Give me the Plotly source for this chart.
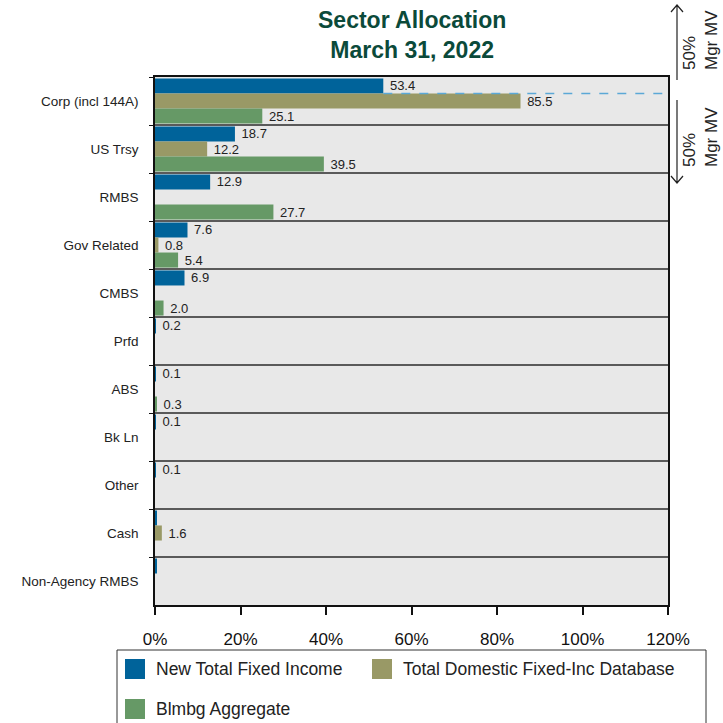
import plotly.graph_objects as go

categories = ["Corp (incl 144A)", "US Trsy", "RMBS", "Gov Related", "CMBS", "Prfd",
              "ABS", "Bk Ln", "Other", "Cash", "Non-Agency RMBS"]
series_names = ["New Total Fixed Income", "Total Domestic Fixed-Inc Database", "Blmbg Aggregate"]
new_total = [53.4, 18.7, 12.9, 7.6, 6.9, 0.2, 0.1, 0.1, 0.1, 0.3, 0.3]
new_total_lbl = ["53.4", "18.7", "12.9", "7.6", "6.9", "0.2", "0.1", "0.1", "0.1", "", ""]
domestic_db = [85.5, 12.2, None, 0.8, None, None, None, None, None, 1.6, None]
domestic_db_lbl = ["85.5", "12.2", "", "0.8", "", "", "", "", "", "1.6", ""]
blmbg_agg = [25.1, 39.5, 27.7, 5.4, 2.0, None, 0.3, None, None, None, None]
blmbg_agg_lbl = ["25.1", "39.5", "27.7", "5.4", "2.0", "", "0.3", "", "", "", ""]
x_ticks = [0, 20, 40, 60, 80, 100, 120]
x_tick_labels = ["0%", "20%", "40%", "60%", "80%", "100%", "120%"]
colors = ["#00639A", "#999966", "#669966"]

W, H = 723, 723
L, R, T, B = 155, 668, 77, 605
FONT = "Arial, Liberation Sans, sans-serif"


def px(xpix):
    return (xpix - L) / (R - L)


def py(ypix):
    return (B - ypix) / (B - T)


fig = go.Figure()
for name, vals, lbls, col in zip(series_names,
                                 [new_total, domestic_db, blmbg_agg],
                                 [new_total_lbl, domestic_db_lbl, blmbg_agg_lbl],
                                 colors):
    fig.add_trace(go.Bar(
        y=categories, x=vals, name=name, orientation="h",
        marker=dict(color=col, line=dict(width=0)),
        text=[(" " + t) if t else "" for t in lbls],
        textposition="outside", cliponaxis=False,
        textfont=dict(size=13, color="#222222", family=FONT),
        showlegend=False,
    ))

shapes = []
# dashed reference line at the blue-bar level of Corp
shapes.append(dict(type="line", xref="x", yref="y",
                   x0=new_total[0], x1=x_ticks[-1], y0=-0.157, y1=-0.157,
                   line=dict(color="#5BA8D6", width=1.5, dash="dash")))

ax_x = 677
shapes.append(dict(type="path", xref="paper", yref="paper",
                   path=(f"M{px(ax_x)},{py(80)} L{px(ax_x)},{py(5)} "
                         f"M{px(671)},{py(12)} L{px(ax_x)},{py(5)} L{px(683)},{py(12)}"),
                   line=dict(color="#222", width=1.2)))
shapes.append(dict(type="path", xref="paper", yref="paper",
                   path=(f"M{px(ax_x)},{py(100)} L{px(ax_x)},{py(183)} "
                         f"M{px(671)},{py(176)} L{px(ax_x)},{py(183)} L{px(683)},{py(176)}"),
                   line=dict(color="#222", width=1.2)))

# legend box
shapes.append(dict(type="rect", xref="paper", yref="paper",
                   x0=px(117), x1=px(706), y0=py(650), y1=py(740),
                   line=dict(color="#333", width=1), fillcolor="rgba(0,0,0,0)"))
legend_pos = [(125, 669), (372, 669), (125, 709)]
annotations = []
for (lx, ly), name, col in zip(legend_pos, series_names, colors):
    shapes.append(dict(type="rect", xref="paper", yref="paper",
                       x0=px(lx), x1=px(lx + 20), y0=py(ly - 10), y1=py(ly + 10),
                       line=dict(width=0), fillcolor=col))
    annotations.append(dict(xref="paper", yref="paper", x=px(lx + 29), y=py(ly),
                            xanchor="left", yanchor="middle", showarrow=False,
                            text=name, font=dict(size=17.5, color="#222", family=FONT)))

for yc in [40, 137]:
    annotations.append(dict(xref="paper", yref="paper", x=px(700), y=py(yc),
                            xanchor="center", yanchor="middle", showarrow=False,
                            text="50%<br>Mgr MV", textangle=-90, align="left",
                            font=dict(size=17, color="#222", family=FONT)))

# title
annotations.append(dict(xref="paper", yref="paper", x=px((L + R) / 2), y=py(5),
                        xanchor="center", yanchor="top", showarrow=False,
                        text="<b>Sector Allocation<br>March 31, 2022</b>",
                        font=dict(size=23, color="#0B4A3A", family=FONT)))

fig.update_layout(
    width=W, height=H,
    margin=dict(l=L, r=W - R, t=T, b=H - B, pad=0),
    paper_bgcolor="white", plot_bgcolor="#E8E8E8",
    barmode="group", bargap=0.06, bargroupgap=0,
    font=dict(family=FONT, color="#222"),
    shapes=shapes, annotations=annotations, showlegend=False,
)
fig.update_xaxes(range=[0, 120], tickvals=x_ticks, ticktext=x_tick_labels,
                 showgrid=False, zeroline=False, ticks="outside", ticklen=8,
                 tickwidth=1.5, tickcolor="#111", showline=True, linecolor="#111",
                 linewidth=1.5, mirror=True, ticklabelstandoff=10,
                 tickfont=dict(size=17, color="#111", family=FONT))
fig.update_yaxes(type="category", categoryorder="array", categoryarray=categories,
                 autorange="reversed", tickson="boundaries", showgrid=True,
                 gridcolor="#5A5A5A", gridwidth=1.5, ticks="outside", ticklen=4,
                 tickcolor="#111", showline=True, linecolor="#111", linewidth=1.5,
                 mirror=True, ticklabelstandoff=12,
                 tickfont=dict(size=13.5, color="#222", family=FONT))

fig.write_html("out.html", config={"displayModeBar": False},
               post_script="document.body.style.margin='0';")
